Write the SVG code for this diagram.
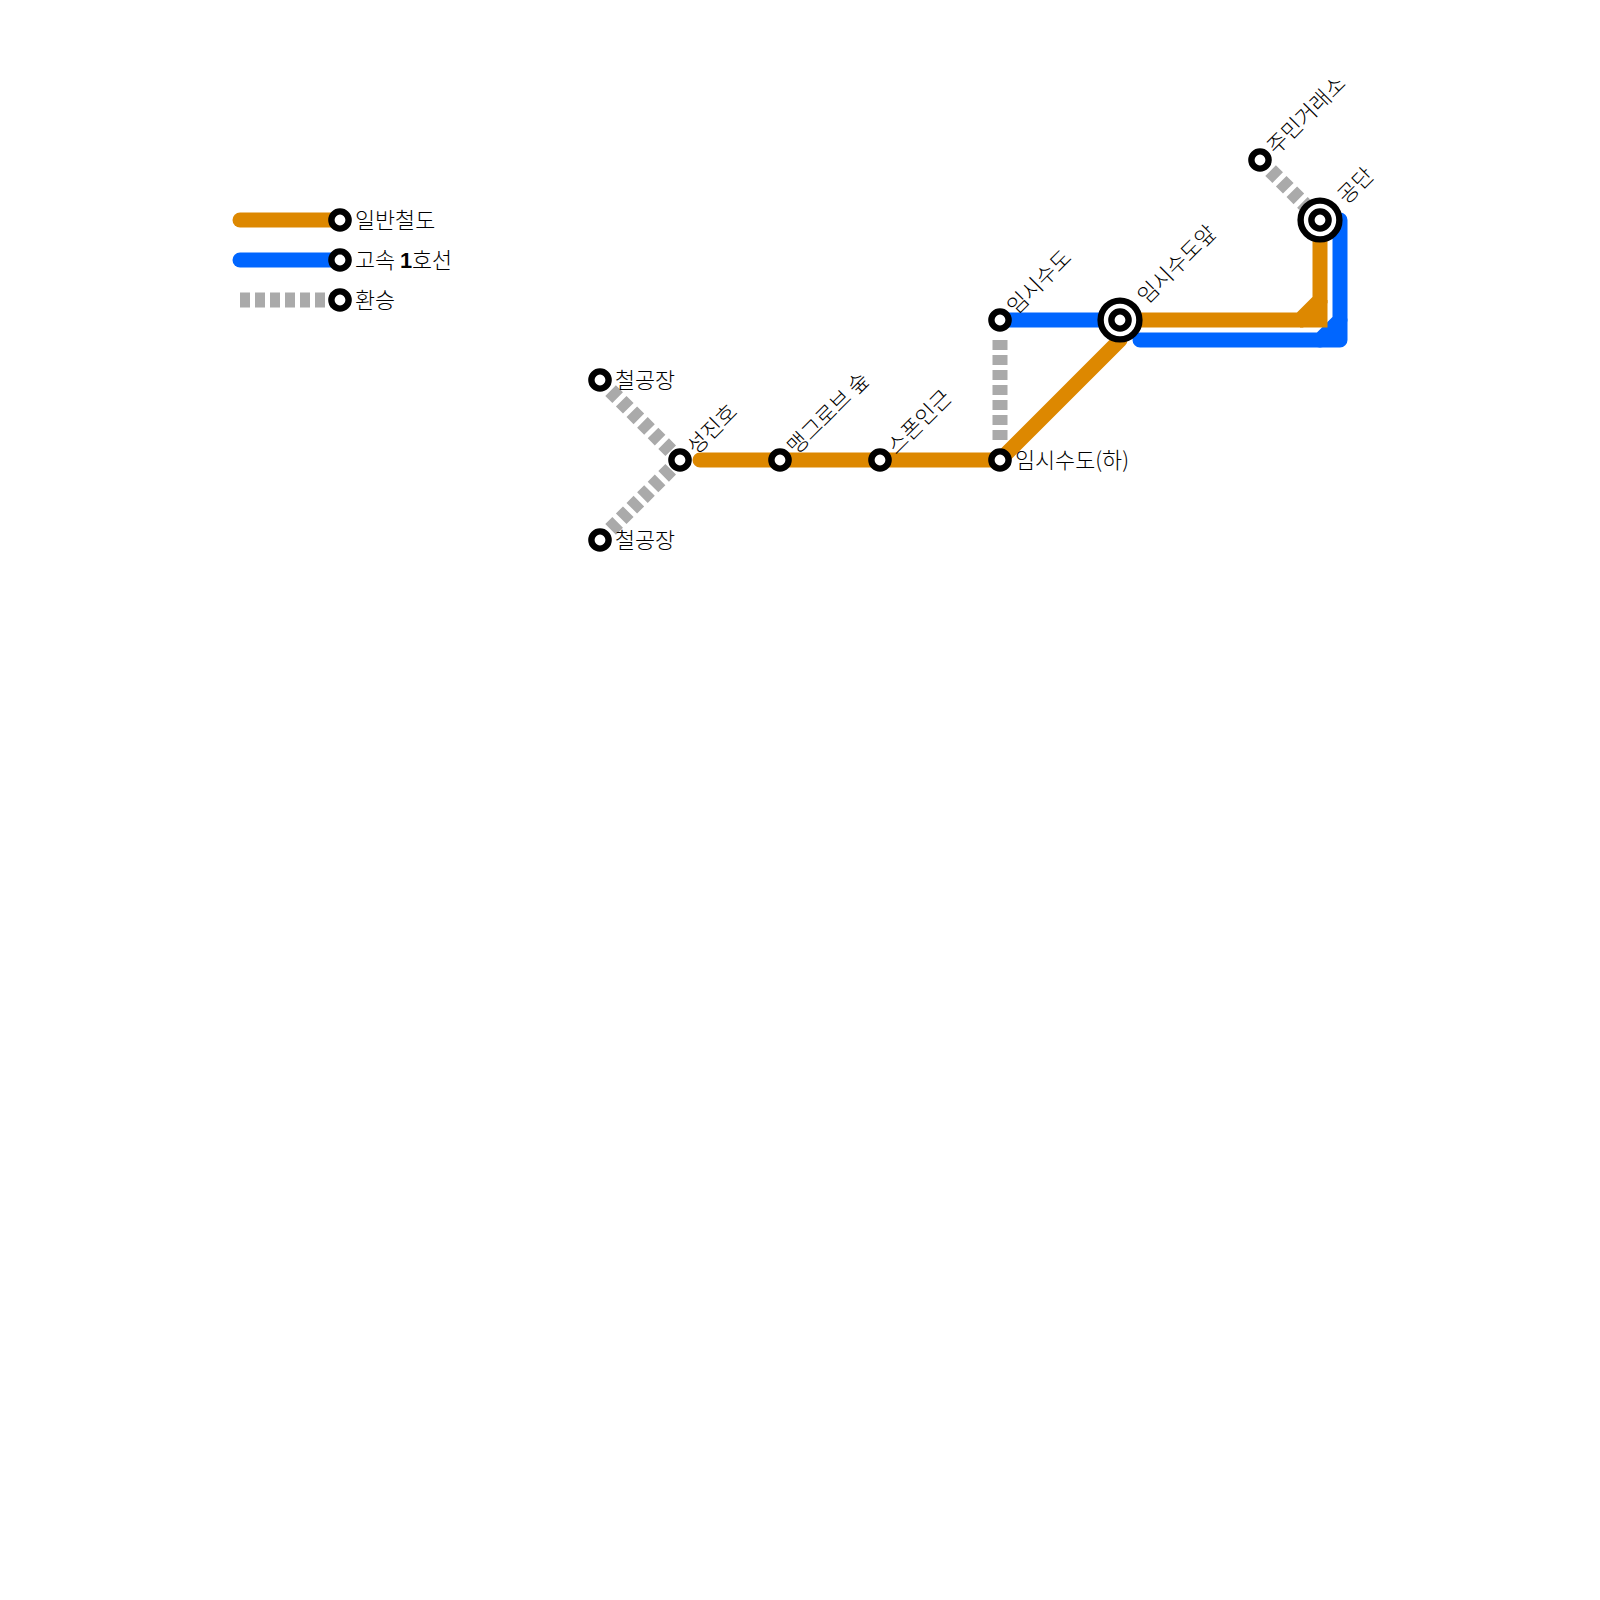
<svg xmlns="http://www.w3.org/2000/svg" width="1600" height="1600" viewBox="0 0 1600 1600">
<style>
.l{fill:none;stroke-width:15}
.o{stroke:#dd8800}
.b{stroke:#0066ff}
.g{stroke:#aaaaaa;stroke-dasharray:10 5}
.r{stroke-linecap:round;stroke-linejoin:round}
.s{fill:#fff;stroke:#000;stroke-width:6.4}
.d{font-weight:700;font-family:"Liberation Sans",sans-serif}
text{font-family:"Noto Sans CJK KR","Noto Sans",sans-serif;font-size:21.8px;font-weight:300;fill:#000}
</style>
<defs>
<g id="st"><circle class="s" r="8.6"/></g>
<g id="big"><circle class="s" r="19.4"/><circle class="s" r="8.6"/></g>
</defs>
<rect width="1600" height="1600" fill="#fff"/>
<g id="connectors">
<path class="l o r" d="M240 220H340"/>
<path class="l b r" d="M240 260H340"/>
<path class="l g" d="M240 300H340"/>
<path class="l g" d="M610.6 390.6L670.7 450.7"/>
<path class="l g" d="M610.6 529.4L670.7 469.3"/>
<path class="l g" d="M1000 340V440"/>
<path class="l g" d="M1270.6 170.6L1320 220"/>
<path class="l b r" d="M1000 320H1120"/>
<path class="l b r" d="M1140 340H1320L1340 320V220"/>
<path class="l b r" d="M1320 340H1340V320"/>
<path class="l o r" d="M700 460H1000L1120 340V320"/>
<path class="l o" stroke-linejoin="miter" d="M1120 320H1300L1320 300V220"/>
<path class="l o" stroke-linejoin="miter" d="M1300 320H1320V300"/>
</g>
<g id="legend-rail"><use href="#st" x="340" y="220"/><text x="355" y="227.5">일반철도</text></g>
<g id="legend-express"><use href="#st" x="340" y="260"/><text x="355" y="267.5">고속 <tspan class="d">1</tspan>호선</text></g>
<g id="legend-transfer"><use href="#st" x="340" y="300"/><text x="355" y="307.5">환승</text></g>
<g id="n-steel1"><use href="#st" x="600" y="380"/><text x="615" y="387.5">철공장</text></g>
<g id="n-steel2"><use href="#st" x="600" y="540"/><text x="615" y="547.5">철공장</text></g>
<g id="n-seongjin"><use href="#st" x="680" y="460"/><text transform="translate(680 460) rotate(-45)" x="14.5" y="8.5">성진호</text></g>
<g id="n-mangrove"><use href="#st" x="780" y="460"/><text transform="translate(780 460) rotate(-45)" x="14.5" y="8.5">맹그로브 숲</text></g>
<g id="n-stone"><use href="#st" x="880" y="460"/><text transform="translate(880 460) rotate(-45)" x="14.5" y="8.5">스폰인근</text></g>
<g id="n-temp-low"><use href="#st" x="1000" y="460"/><text x="1015" y="467.5">임시수도(하)</text></g>
<g id="n-temp"><use href="#st" x="1000" y="320"/><text transform="translate(1000 320) rotate(-45)" x="14.5" y="8.5">임시수도</text></g>
<g id="n-temp-front"><use href="#big" x="1120" y="320"/><text transform="translate(1120 320) rotate(-45)" x="29.5" y="8.5">임시수도앞</text></g>
<g id="n-market"><use href="#st" x="1260" y="160"/><text transform="translate(1260 160) rotate(-45)" x="14.5" y="8.5">주민거래소</text></g>
<g id="n-gongdan"><use href="#big" x="1320" y="220"/><text transform="translate(1320 220) rotate(-45)" x="29.5" y="8.5">공단</text></g>
</svg>
